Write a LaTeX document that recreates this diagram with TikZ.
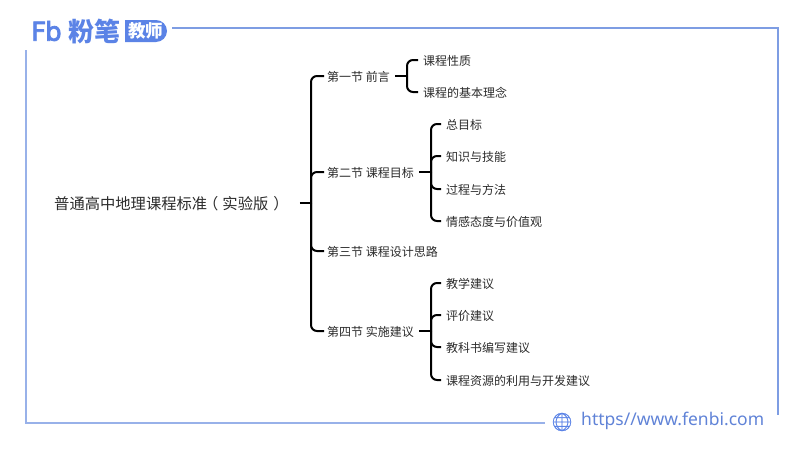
\documentclass[tikz,border=0pt]{standalone}
\usepackage{fontspec}
\setmainfont{Noto Sans CJK SC}
\newfontfamily\urlfont{Noto Sans}
\newfontfamily\logofont[FakeBold=3]{DejaVu Sans}
\newfontfamily\emojifont[FakeBold=0.6]{Noto Emoji}
\definecolor{fbblue}{HTML}{5B83E6}
\definecolor{framec}{HTML}{7E9DE3}
\definecolor{inkc}{HTML}{2B2B2B}
\tikzset{
	leaf/.style={anchor=west,inner sep=0pt,text height=11.4pt,text depth=1pt,font=\fontsize{12}{12}\selectfont,text=inkc},
	link/.style={line width=2pt,black,rounded corners=6pt},
	stub/.style={line width=2pt,black},
	frameline/.style={line width=1.6pt,framec}
}
\begin{document}
\begin{tikzpicture}[x=1pt,y=-1pt]
		\useasboundingbox (0,0) rectangle (800,450);
		
		% Frame
		\coordinate (ftl) at (172,28);
		\coordinate (ftr) at (778,28);
		\coordinate (fbr) at (778,415);
		\coordinate (fcl) at (26,50);
		\coordinate (fbl) at (26,423);
		\coordinate (fbe) at (545,423);
		\draw[frameline] (ftl) -- (ftr) -- (fbr);
		\draw[frameline,framec!80] (fcl) -- (fbl) -- (fbe);
		
		% Logo
		\node[anchor=west,inner sep=0pt,text=fbblue,font=\fontsize{26}{26}\selectfont\logofont] (fb) at (31,31) {F\kern-1pt b};
		\node[anchor=west,inner sep=0pt,text=fbblue,font=\fontsize{26}{26}\selectfont\bfseries] (fenbi) at (68,31) {粉笔};
		\fill[fbblue] (125,20) -- (156,20) arc[start angle=-90,end angle=90,radius=11] -- (125,42) -- cycle;
		\node[anchor=west,inner sep=0pt,text=white,font=\fontsize{17.5}{18}\selectfont\bfseries] (teacher) at (128,31) {教师};
		
		% Footer
		\node[inner sep=0pt,text=fbblue,font=\fontsize{18}{18}\selectfont\emojifont] (globe) at (562,422) {🌐};
		\node[anchor=west,inner sep=0pt,text=fbblue!85!gray,font=\fontsize{17.5}{18}\selectfont\urlfont] (site) at (581,421) {https//www.fenbi.com};
		
		% Root
		\node[anchor=west,inner sep=0pt,text height=14.4pt,text depth=1.2pt,font=\fontsize{15.3}{16}\selectfont,text=inkc] (root) at (54,203) {普通高中地理课程标准\kern-4pt（\kern4pt实验版\kern5pt）};
		
		% Sections
		\node[leaf] (s1) at (327,76) {第一节 前言};
		\node[leaf] (s2) at (327,172) {第二节 课程目标};
		\node[leaf] (s3) at (327,251) {第三节 课程设计思路};
		\node[leaf] (s4) at (327,331) {第四节 实施建议};
		
		% Section one
		\node[leaf] (s1a) at (423,60) {课程性质};
		\node[leaf] (s1b) at (423,92) {课程的基本理念};
		
		% Section two
		\node[leaf] (s2a) at (446,124) {总目标};
		\node[leaf] (s2b) at (446,156) {知识与技能};
		\node[leaf] (s2c) at (446,189) {过程与方法};
		\node[leaf] (s2d) at (446,221) {情感态度与价值观};
		
		% Section four
		\node[leaf] (s4a) at (446,283) {教学建议};
		\node[leaf] (s4b) at (446,315) {评价建议};
		\node[leaf] (s4c) at (446,347) {教科书编写建议};
		\node[leaf] (s4d) at (446,380) {课程资源的利用与开发建议};
		
		% Trunk
		\coordinate (hub) at (311,203);
		\draw[stub] ([xshift=11pt]root.east) -- (hub);
		\foreach \to in {s1,s2,s3,s4}
		\draw[link] (hub) |- ([xshift=-3pt]\to.west);
		
		% Brackets
		\coordinate (hub1) at (407,76);
		\coordinate (hub2) at (431,172);
		\coordinate (hub4) at (431,331);
		
		\draw[stub] ([xshift=5pt]s1.east) -- (hub1);
		\foreach \to in {s1a,s1b}
		\draw[link] (hub1) |- ([xshift=-5pt]\to.west);
		
		\draw[stub] ([xshift=5pt]s2.east) -- (hub2);
		\foreach \to in {s2a,s2b,s2c,s2d}
		\draw[link] (hub2) |- ([xshift=-5pt]\to.west);
		
		\draw[stub] ([xshift=5pt]s4.east) -- (hub4);
		\foreach \to in {s4a,s4b,s4c,s4d}
		\draw[link] (hub4) |- ([xshift=-5pt]\to.west);
	\end{tikzpicture}
\end{document}
